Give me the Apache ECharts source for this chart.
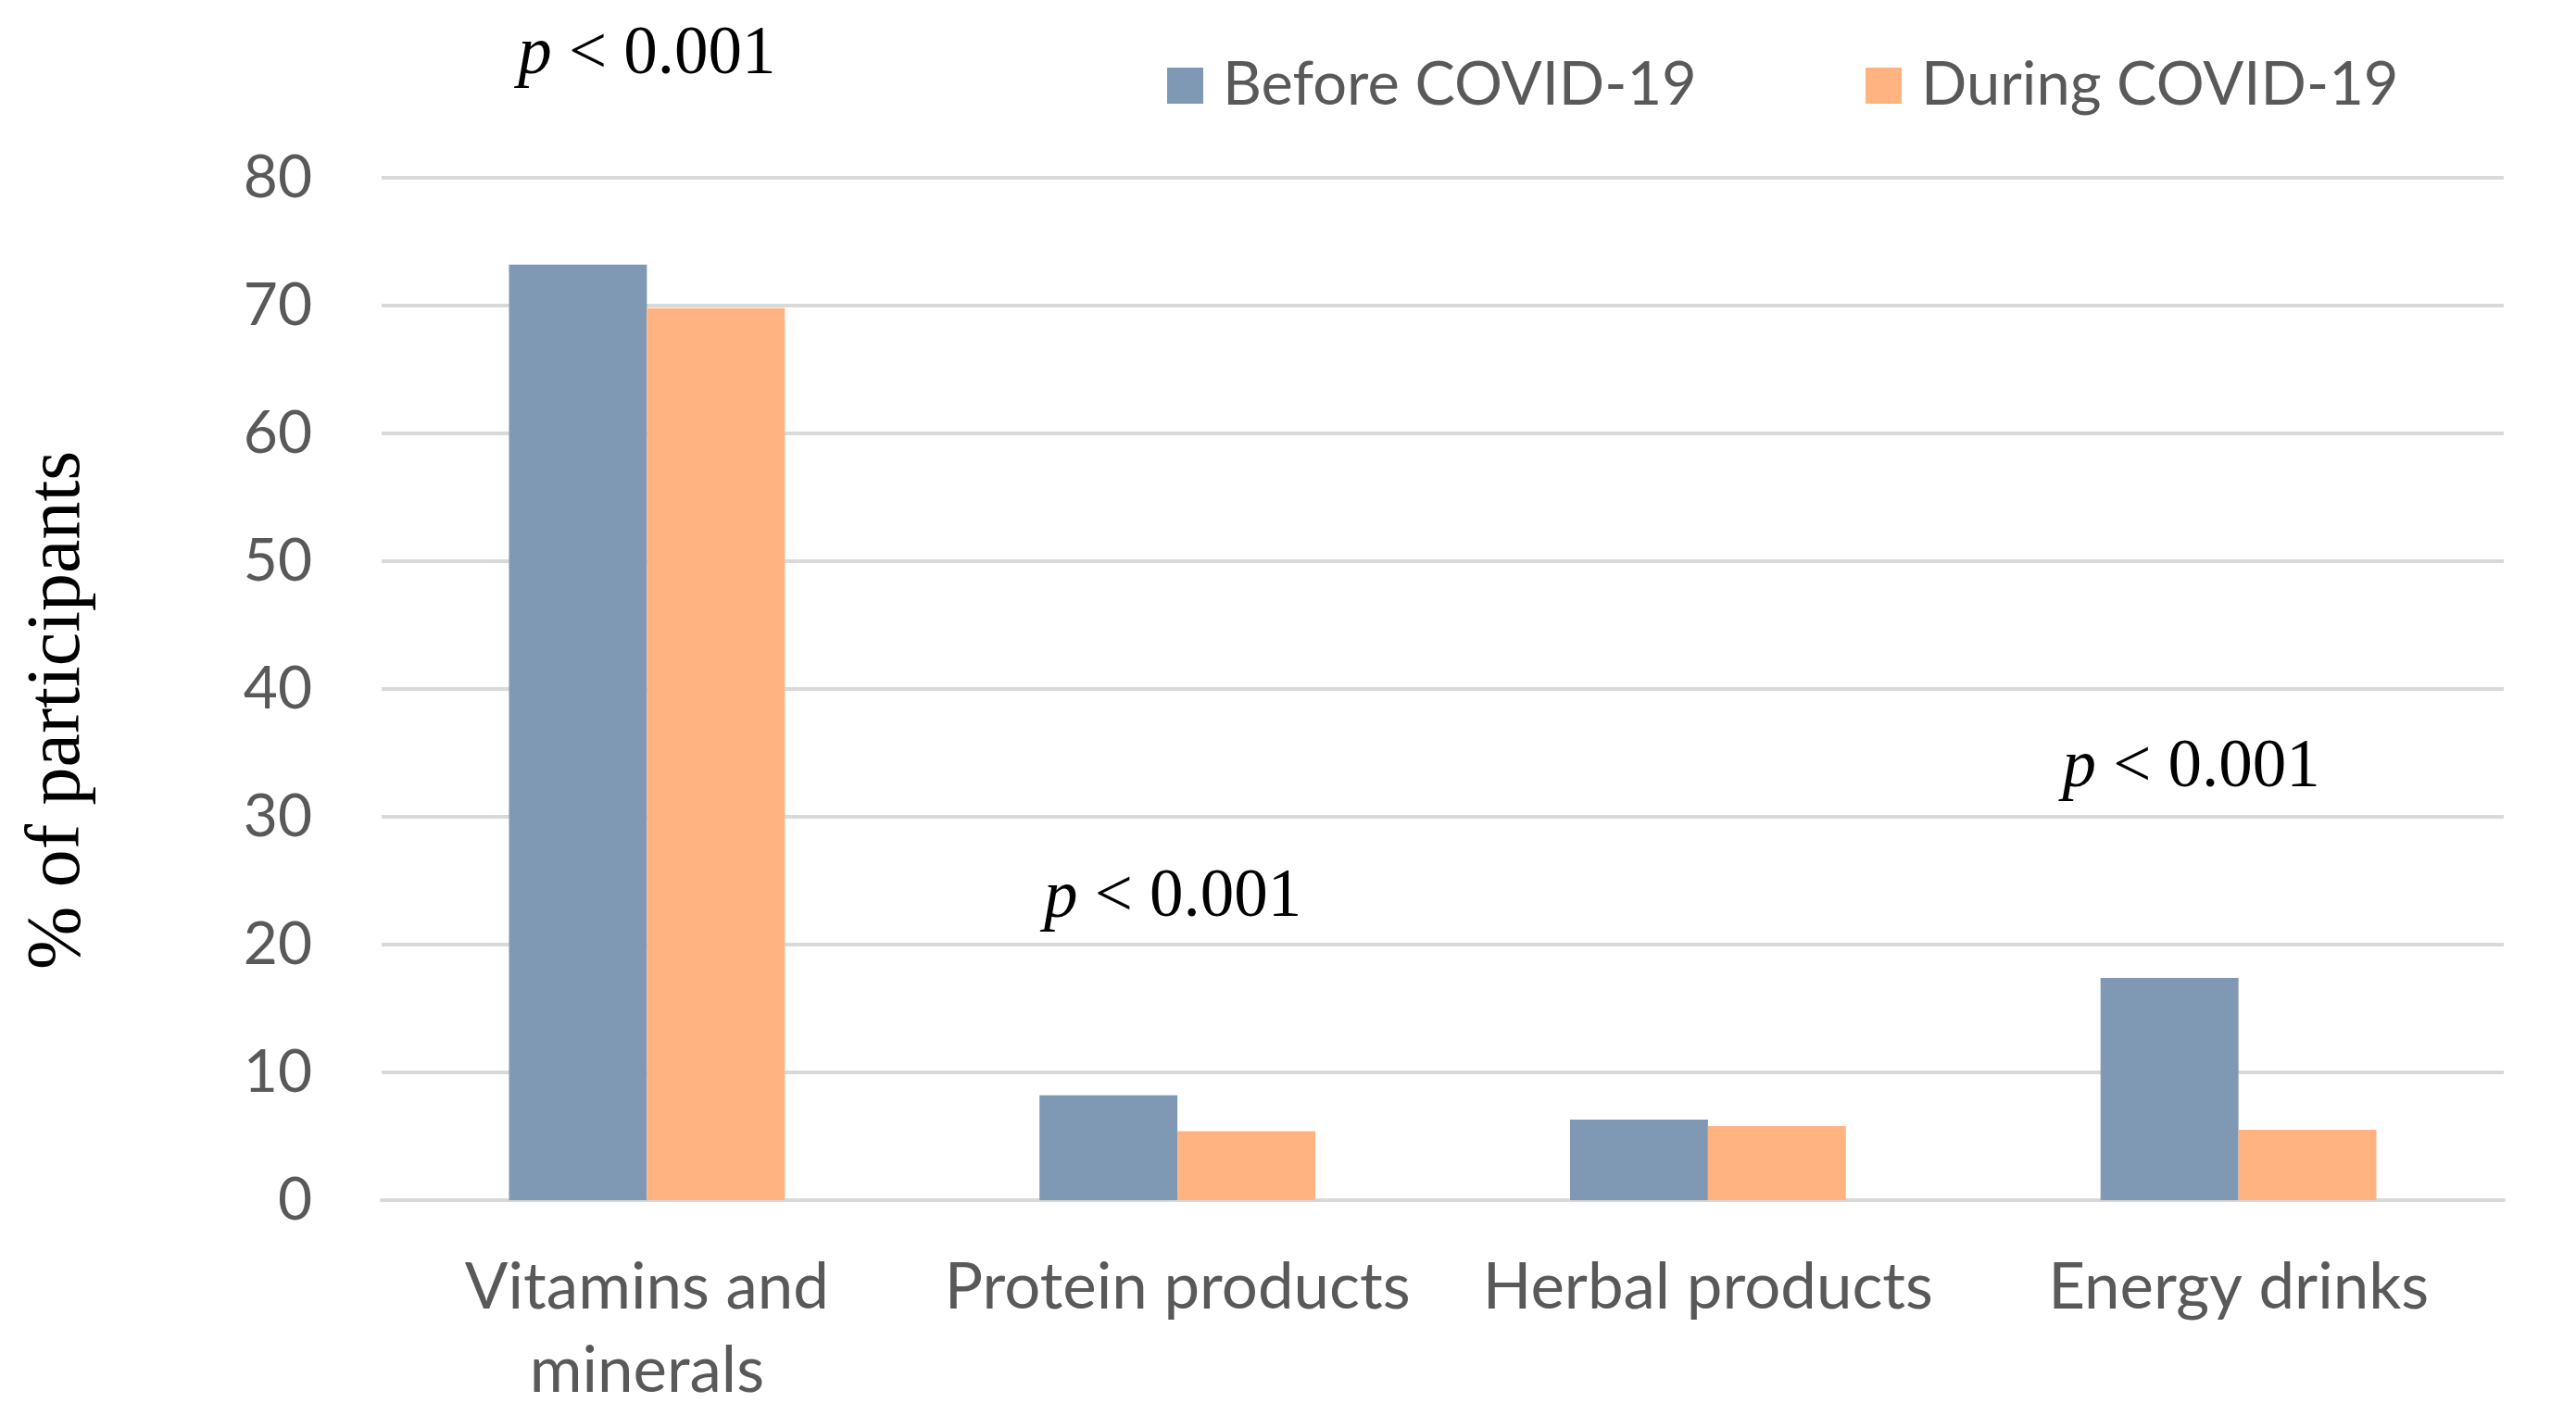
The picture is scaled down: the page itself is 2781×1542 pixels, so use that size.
<!DOCTYPE html>
<html>
<head>
<meta charset="utf-8">
<script src="https://cdn.jsdelivr.net/npm/echarts@6/dist/echarts.min.js"></script>
<style>
html,body{margin:0;padding:0;background:#fff;}
#chart{width:2781px;height:1542px;}
</style>
</head>
<body>
<div id="chart"></div>
<script>
const categories = ['Vitamins and\nminerals', 'Protein products', 'Herbal products', 'Energy drinks'];
const beforeValues = [73.2, 8.2, 6.3, 17.4];
const duringValues = [69.8, 5.4, 5.8, 5.5];
const yTicks = [0, 10, 20, 30, 40, 50, 60, 70, 80];
const annotCategoryIndex = [0, 1, 3];
const annotValues = [89.6, 23.6, 33.8];
const annotPValue = ['0.001', '0.001', '0.001'];
const annotShift = [0, -5, -51];

const BLUE = '#7f99b4';
const ORANGE = '#ffb380';
const GREY_TXT = '#595959';
const SANS = 'Lato, "Open Sans", sans-serif';
const SERIF = '"Liberation Serif", "DejaVu Serif", serif';

const chart = echarts.init(document.getElementById('chart'));

const legendCommon = {
  orient: 'horizontal',
  itemWidth: 39,
  itemHeight: 39,
  icon: 'rect',
  top: 55,
  textStyle: {fontFamily: SANS, fontSize: 65, color: GREY_TXT, padding: [0, 0, 0, 16]}
};

chart.setOption({
  animation: false,
  backgroundColor: '#fff',
  grid: {left: 412, right: 78, top: 192, bottom: 246, containLabel: false},
  legend: [
    Object.assign({}, legendCommon, {left: 1255, data: ['Before COVID-19']}),
    Object.assign({}, legendCommon, {left: 2009, data: ['During COVID-19']})
  ],
  xAxis: {
    type: 'category',
    data: categories,
    axisLine: {show: true, lineStyle: {color: '#d9d9d9', width: 4}},
    axisTick: {show: false},
    axisLabel: {fontFamily: SANS, fontSize: 69, color: GREY_TXT, margin: 50, lineHeight: 90, interval: 0}
  },
  yAxis: {
    type: 'value',
    min: yTicks[0],
    max: yTicks[yTicks.length - 1],
    interval: yTicks[1] - yTicks[0],
    name: '% of participants',
    nameLocation: 'middle',
    nameRotate: 90,
    nameGap: 308,
    nameTextStyle: {fontFamily: SERIF, fontSize: 82, color: '#000', padding: [0, 46, 0, 0]},
    axisLine: {show: false},
    axisTick: {show: false},
    axisLabel: {fontFamily: SANS, fontSize: 64, color: GREY_TXT, margin: 75},
    splitLine: {show: true, lineStyle: {color: '#d9d9d9', width: 4}}
  },
  series: [
    {
      name: 'Before COVID-19',
      type: 'bar',
      data: beforeValues,
      itemStyle: {color: BLUE},
      barGap: '0%',
      barCategoryGap: '48%'
    },
    {
      name: 'During COVID-19',
      type: 'bar',
      data: duringValues,
      itemStyle: {color: ORANGE},
      barGap: '0%',
      barCategoryGap: '48%'
    }
  ]
});

// significance annotations, positioned through the chart's own scales
const annotGraphics = annotCategoryIndex.map((ci, i) => {
  const pt = chart.convertToPixel({xAxisIndex: 0, yAxisIndex: 0}, [ci, annotValues[i]]);
  return {
    type: 'text',
    x: pt[0] + annotShift[i],
    y: pt[1],
    style: {
      text: '{p|p}{t| < ' + annotPValue[i] + '}',
      align: 'center',
      verticalAlign: 'middle',
      rich: {
        p: {fontFamily: SERIF, fontStyle: 'italic', fontSize: 73, fill: '#000'},
        t: {fontFamily: SERIF, fontSize: 73, fill: '#000'}
      }
    }
  };
});
chart.setOption({graphic: annotGraphics});
</script>
</body>
</html>
